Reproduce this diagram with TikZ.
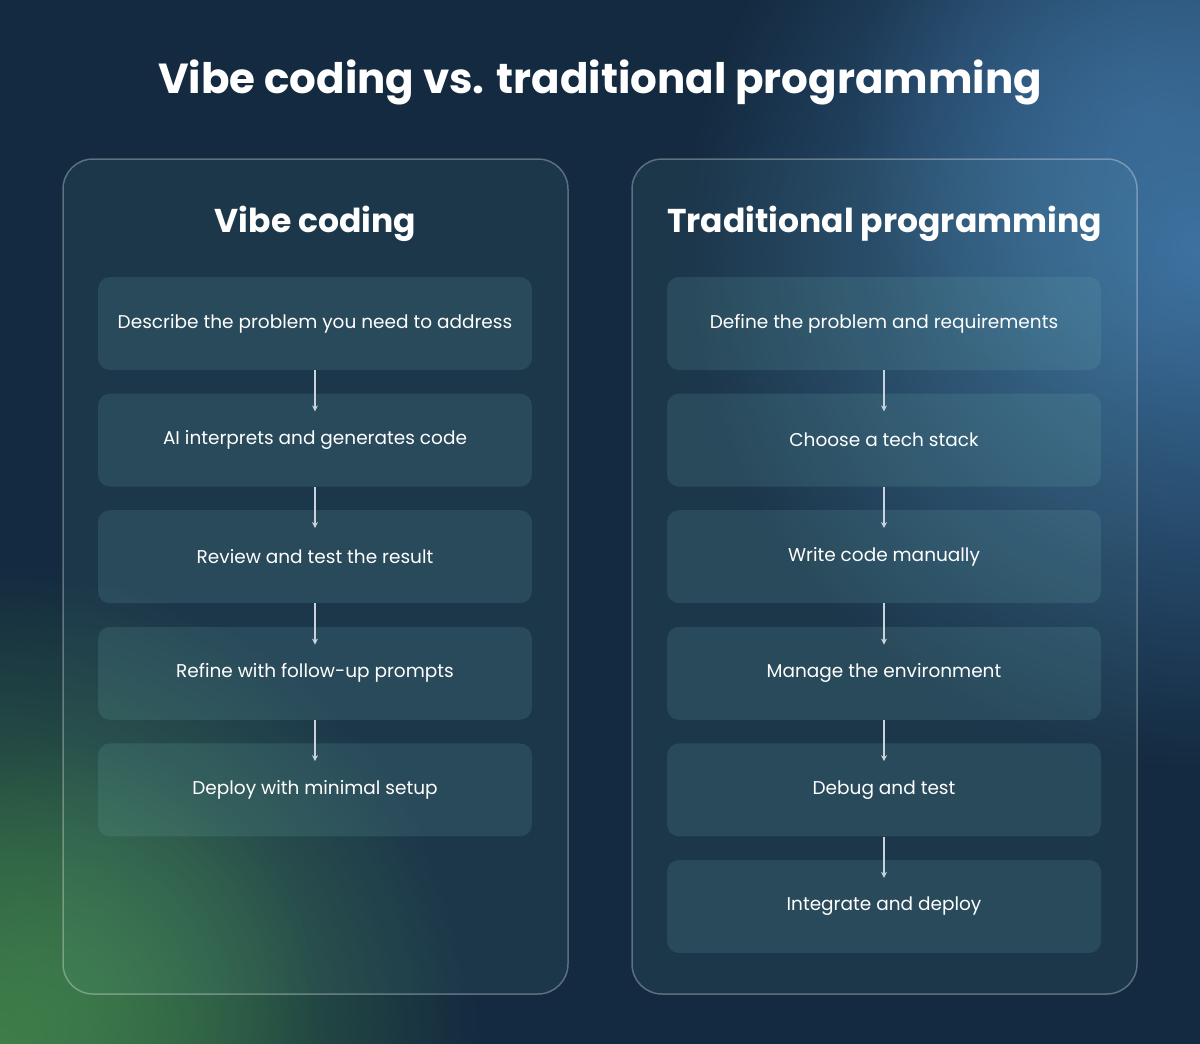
\documentclass[tikz,border=0pt]{standalone}
\usepackage{fontspec}
\setmainfont{Poppins}
\usetikzlibrary{fadings,arrows.meta}
\tikzfading[name=glowfade, inner color=transparent!0, outer color=transparent!100]
\definecolor{bgbase}{HTML}{142A40}
\definecolor{glowblue}{HTML}{3E72A0}
\definecolor{glowgreen}{HTML}{3F7F4A}
\definecolor{tint}{HTML}{6FB0B0}
\definecolor{arr}{HTML}{C9D3DC}
\tikzset{
  panel/.style={draw=white,draw opacity=0.3,line width=1.5pt,fill=tint,fill opacity=0.09,rounded corners=30pt},
  stepbox/.style={fill=tint,fill opacity=0.17,text opacity=1,rounded corners=12pt,minimum width=434pt,minimum height=93pt,text=white,font=\fontsize{18.5}{22}\selectfont,inner sep=0pt},
  head/.style={text=white,font=\bfseries\fontsize{33}{40}\selectfont},
  conn/.style={draw=arr,line width=1.2pt,-{Stealth[length=6pt,width=6pt]}}
}
\begin{document}
\begin{tikzpicture}[x=1pt,y=1pt]
\fill[bgbase] (0,0) rectangle (1200,-1044);
\useasboundingbox (0,0) rectangle (1200,-1044);
\begin{scope}
\clip (0,0) rectangle (1200,-1044);
\fill[glowblue,path fading=glowfade] (1200,-250) circle (520);
\fill[glowblue,path fading=glowfade,opacity=0.6] (1150,-120) circle (300);
\fill[glowgreen,path fading=glowfade] (0,-1044) circle (480);
\fill[glowgreen,path fading=glowfade,opacity=0.6] (60,-1000) circle (260);
\end{scope}
\node[text=white,font=\bfseries\fontsize{42}{50}\selectfont] (title) at (600,-82) {Vibe coding vs. traditional programming};
\draw[panel] (63,-159) rectangle (568,-994);
\draw[panel] (632,-159) rectangle (1137,-994);
\node[head] (lh) at (315.5,-224) {Vibe coding};
\node[head] (rh) at (884.5,-224) {Traditional programming};
\foreach \t [count=\i] in {Describe the problem you need to address,AI interprets and generates code,Review and test the result,Refine with follow-up prompts,Deploy with minimal setup}
  \node[stepbox] (l\i) at (315,{-323.5-116.6*(\i-1)}) {\raisebox{-2pt}{\t}};
\foreach \t [count=\i] in {Define the problem and requirements,Choose a tech stack,Write code manually,Manage the environment,Debug and test,Integrate and deploy}
  \node[stepbox] (r\i) at (884,{-323.5-116.6*(\i-1)}) {\raisebox{-2pt}{\t}};
\foreach \i [evaluate=\i as \j using int(\i+1)] in {1,2,3,4}
  \draw[conn] (l\i.south) -- ([yshift=-18pt]l\j.north);
\foreach \i [evaluate=\i as \j using int(\i+1)] in {1,2,3,4,5}
  \draw[conn] (r\i.south) -- ([yshift=-18pt]r\j.north);
\end{tikzpicture}
\end{document}
